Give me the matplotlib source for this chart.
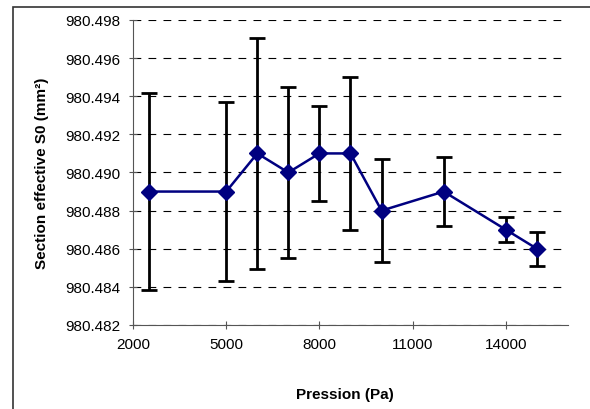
import matplotlib.pyplot as plt
from matplotlib.patches import Rectangle
from matplotlib.ticker import FormatStrFormatter

plt.rcParams['font.family'] = ['Liberation Sans', 'DejaVu Sans']

# pressure (Pa), cross section S0 (mm2) and its uncertainty
pression = [2500, 5000, 6000, 7000, 8000, 9000, 10000, 12000, 14000, 15000]
section = [980.489, 980.489, 980.491, 980.490, 980.491, 980.491,
           980.488, 980.489, 980.487, 980.486]
erreur = [0.00515, 0.0047, 0.00605, 0.0045, 0.0025, 0.004,
          0.0027, 0.0018, 0.00065, 0.0009]

fig = plt.figure(figsize=(5.9, 4.1), dpi=100)
ax = fig.add_axes([0.2254, 0.2049, 0.7373, 0.7439])

# outer chart frame (only left and top visible)
fig.patches.append(Rectangle((12.5 / 590, -0.1), 1.2, (410 - 7.5) / 410 + 0.1,
                             transform=fig.transFigure, fill=False,
                             edgecolor='#333333', linewidth=1.2))

ax.errorbar(pression, section, yerr=erreur, fmt='none', ecolor='black',
            elinewidth=2, capsize=5.5, capthick=2, zorder=2)
ax.plot(pression, section, color='#000080', linewidth=1.8, marker='D',
        markersize=8, zorder=3)

ax.set_xlim(2000, 16000)
ax.set_ylim(980.482, 980.498)
ax.set_xticks([2000, 5000, 8000, 11000, 14000])
ax.set_yticks([980.482 + 0.002 * i for i in range(9)])
ax.yaxis.set_major_formatter(FormatStrFormatter('%.3f'))
ax.yaxis.grid(True, linestyle=(0, (7, 6.5)), color='black', linewidth=0.8)
ax.set_axisbelow(True)

for s in ['top', 'right']:
    ax.spines[s].set_visible(False)
for s in ['left', 'bottom']:
    ax.spines[s].set_color('#555555')
ax.tick_params(direction='inout', length=6, width=0.8, color='#555555',
               labelsize=11, pad=6)

ax.set_xlabel('Pression (Pa)', fontsize=11, fontweight='bold', va='center')
ax.xaxis.set_label_coords(0.487, -0.226)
ax.set_ylabel('Section effective S0 (mm²)', fontsize=11, fontweight='bold',
              va='center')
ax.yaxis.set_label_coords(-0.209, 0.5)

fig.savefig('out.png', dpi=100)
